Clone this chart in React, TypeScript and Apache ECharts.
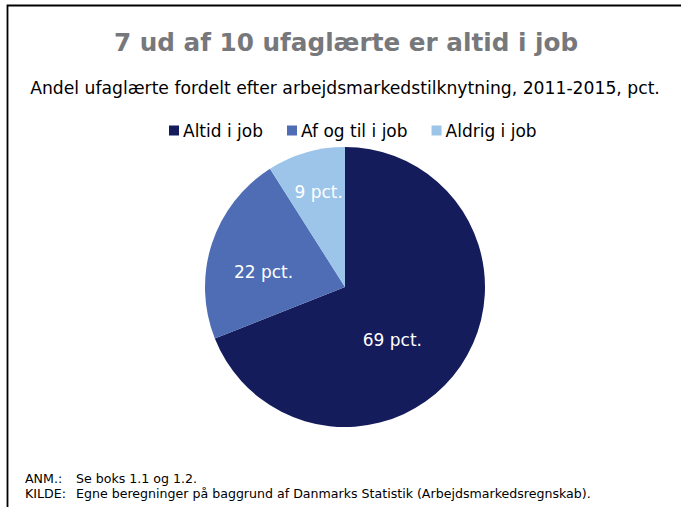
import React, { useEffect, useRef } from "react";
import * as echarts from "echarts";

const categories = ["Altid i job", "Af og til i job", "Aldrig i job"];
const values = [69, 22, 9];
const colors = ["#141c5c", "#4e6db4", "#9cc5e9"];
const titleText = "7 ud af 10 ufaglærte er altid i job";
const subtitleText = "Andel ufaglærte fordelt efter arbejdsmarkedstilknytning, 2011-2015, pct.";
const noteLabels = ["ANM.:", "KILDE:"];
const noteTexts = ["Se boks 1.1 og 1.2.", "Egne beregninger på baggrund af Danmarks Statistik (Arbejdsmarkedsregnskab)."];
const labelOffsets: [number, number][] = [[-13, 12], [-12, 8], [-6, -25]];

const FONT = "DejaVu Sans, Verdana, sans-serif";

export default function App() {
  const ref = useRef<HTMLDivElement>(null);
  useEffect(() => {
    if (!ref.current) return;
    const chart = echarts.init(ref.current, null, { renderer: "svg" });
    chart.setOption({
      animation: false,
      backgroundColor: "#ffffff",
      color: colors,
      legend: {
        top: 117,
        left: 164,
        itemWidth: 10,
        itemHeight: 10,
        itemGap: 24,
        icon: "rect",
        textStyle: { fontFamily: FONT, fontSize: 17, color: "#000", padding: [0, 0, 0, -1] },
        data: categories,
      },
      graphic: [
        {
          type: "rect",
          shape: { x: 7.5, y: 5.5, width: 800, height: 800 },
          style: { fill: "none", stroke: "#000", lineWidth: 1.8 },
          silent: true,
        },
        {
          type: "text",
          x: 346,
          y: 42,
          style: {
            text: titleText,
            fontFamily: FONT,
            fontWeight: "bold",
            fontSize: 24.7,
            fill: "#76787b",
            align: "center",
            verticalAlign: "middle",
          },
        },
        {
          type: "text",
          x: 345,
          y: 88,
          style: {
            text: subtitleText,
            fontFamily: FONT,
            fontSize: 17.2,
            fill: "#000",
            align: "center",
            verticalAlign: "middle",
          },
        },
        ...noteLabels.map((t, i) => ({
          type: "text",
          x: 25,
          y: 478 + i * 15,
          style: { text: t, fontFamily: FONT, fontSize: 12.6, fill: "#000", verticalAlign: "middle" },
        })),
        ...noteTexts.map((t, i) => ({
          type: "text",
          x: 76,
          y: 478 + i * 15,
          style: { text: t, fontFamily: FONT, fontSize: 12.6, fill: "#000", verticalAlign: "middle" },
        })),
      ],
      series: [
        {
          type: "pie",
          center: [345, 287],
          radius: [0, 140],
          startAngle: 90,
          clockwise: true,
          label: {
            show: true,
            position: "inside",
            formatter: "{c} pct.",
            color: "#ffffff",
            fontFamily: FONT,
            fontSize: 17,
          },
          labelLine: { show: false },
          itemStyle: { borderWidth: 0 },
          emphasis: { disabled: true },
          data: categories.map((name, i) => ({
            name,
            value: values[i],
            label: { offset: labelOffsets[i] },
          })),
        },
      ],
    });
    return () => chart.dispose();
  }, []);
  return <div ref={ref} style={{ position: "fixed", left: 0, top: 0, width: 681, height: 507 }} />;
}
